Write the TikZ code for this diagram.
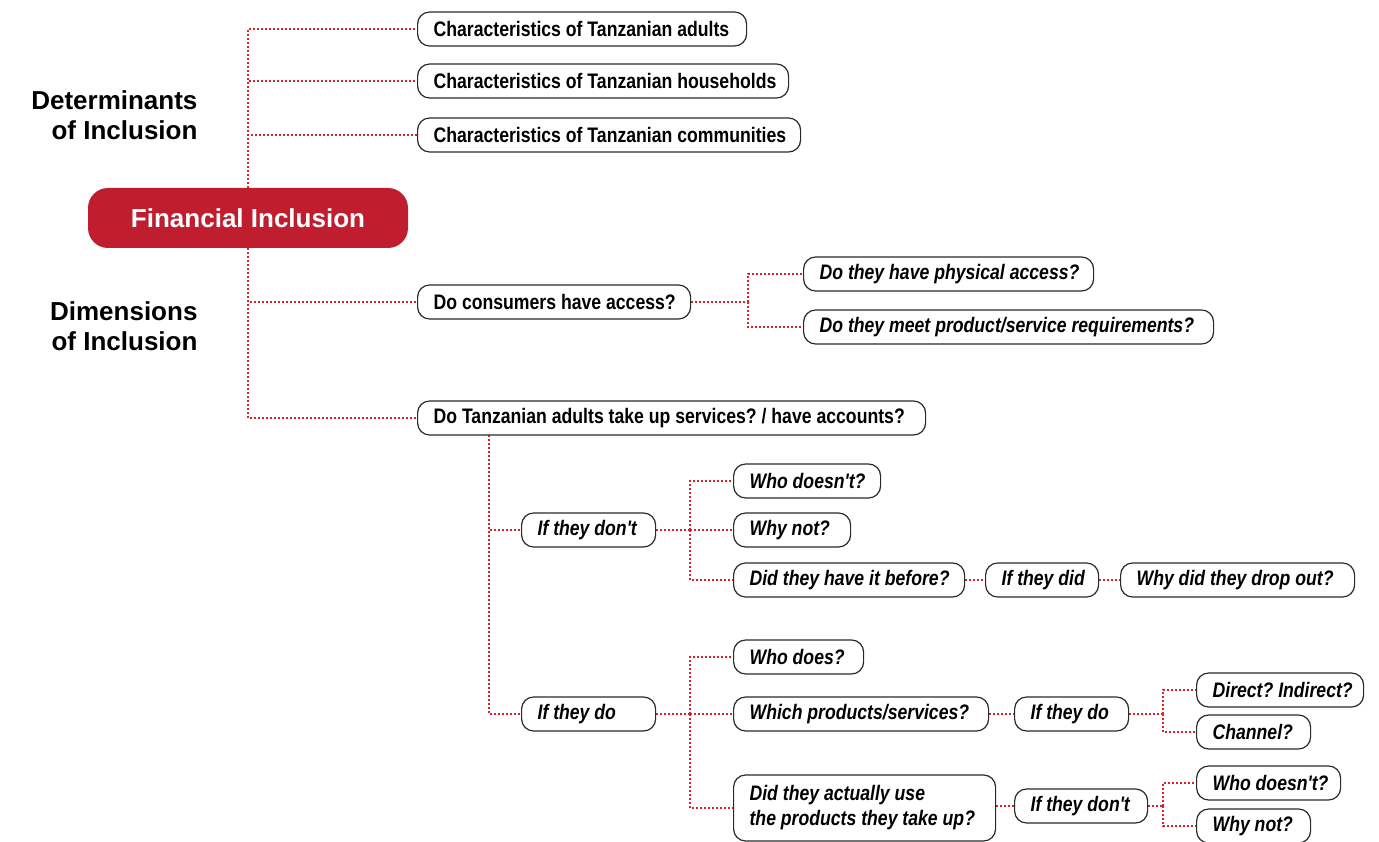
\documentclass[tikz,border=0pt]{standalone}
\usepackage{fontspec}
\usetikzlibrary{backgrounds}
\setmainfont{Liberation Sans}
\newfontfamily\condfont[FakeStretch=0.84]{Liberation Sans}
\definecolor{fired}{HTML}{C01E2E}
\definecolor{dotred}{HTML}{D8232F}
\definecolor{boxline}{HTML}{2A2A2A}
\frenchspacing
\newcommand{\bt}[2]{\makebox[#1][l]{#2}}
\tikzset{
  qbox/.style={draw=boxline, line width=1.2pt, rounded corners=12pt, fill=white,
    anchor=west, align=left, inner xsep=16pt, inner ysep=3pt, minimum height=34pt,
    font=\condfont\bfseries\fontsize{21}{25}\selectfont},
  ibox/.style={qbox, font=\condfont\bfseries\itshape\fontsize{21}{25}\selectfont},
  dotc/.style={draw=dotred, line width=1.9pt, dash pattern=on 1.7pt off 2.3pt},
  sidelabel/.style={anchor=east, align=right, font=\bfseries\fontsize{26}{30}\selectfont}
}
\begin{document}
\begin{tikzpicture}[x=1pt,y=-1pt]
\useasboundingbox (0,0) rectangle (1379,842);
\node[sidelabel] (det) at (201,115) {Determinants\\of Inclusion};
\node[sidelabel] (dim) at (201,326) {Dimensions\\of Inclusion};

\node[qbox] (adults) at (417,29) {\bt{297pt}{Characteristics of Tanzanian adults}};
\node[qbox] (house) at (417,81) {\bt{339pt}{Characteristics of Tanzanian households}};
\node[qbox] (comm) at (417,135) {\bt{351pt}{Characteristics of Tanzanian communities}};

\node[qbox] (access) at (417,302) {\bt{241pt}{Do consumers have access?}};
\node[ibox] (phys) at (803,274) {\bt{258pt}{Do they have physical access?}};
\node[ibox] (meet) at (803,327) {\bt{378pt}{Do they meet product/service requirements?}};

\node[qbox] (tanz) at (417,418) {\bt{476pt}{Do Tanzanian adults take up services? / have accounts?}};

\node[ibox] (ifdont) at (521,530) {\bt{102pt}{If they don't}};
\node[ibox] (whodoesnt) at (733,481) {\bt{115pt}{Who doesn't?}};
\node[ibox] (whynot) at (733,530) {\bt{85pt}{Why not?}};
\node[ibox] (before) at (733,580) {\bt{199pt}{Did they have it before?}};
\node[ibox] (ifdid) at (985,580) {\bt{81pt}{If they did}};
\node[ibox] (dropout) at (1120,580) {\bt{202pt}{Why did they drop out?}};

\node[ibox] (ifdo) at (521,714) {\bt{102pt}{If they do}};
\node[ibox] (whodoes) at (733,657) {\bt{98pt}{Who does?}};
\node[ibox] (which) at (733,714) {\bt{223pt}{Which products/services?}};
\node[ibox, minimum height=66pt] (actually) at (733,808) {\bt{230pt}{Did they actually use}\\\bt{230pt}{the products they take up?}};

\node[ibox] (ifdo2) at (1014,714) {\bt{82pt}{If they do}};
\node[ibox] (direct) at (1196,690) {\bt{135pt}{Direct? Indirect?}};
\node[ibox] (channel) at (1196,732) {\bt{82pt}{Channel?}};

\node[ibox] (ifdont2) at (1014,806) {\bt{101pt}{If they don't}};
\node[ibox] (whodoesnt2) at (1196,783) {\bt{112pt}{Who doesn't?}};
\node[ibox] (whynot2) at (1196,826) {\bt{82pt}{Why not?}};

\node[fill=fired, rounded corners=20pt, minimum width=320pt, minimum height=60pt,
      text=white, font=\bfseries\fontsize{26}{30}\selectfont] (fin) at (248,218) {Financial Inclusion};

% junction coordinates
\coordinate (jacc) at (748,302);
\coordinate (tzb) at (489,435);
\coordinate (jdont) at (690,530);
\coordinate (jdo) at (690,714);
\coordinate (jdo2) at (1163,714);
\coordinate (jdont2) at (1163,806);

\begin{scope}[on background layer]
\draw[dotc] (fin.north) |- (adults.west);
\draw[dotc] (fin.north) |- (house.west);
\draw[dotc] (fin.north) |- (comm.west);
\draw[dotc] (fin.south) |- (access.west);
\draw[dotc] (fin.south) |- (tanz.west);

\draw[dotc] (access.east) -- (jacc);
\draw[dotc] (jacc) |- (phys.west);
\draw[dotc] (jacc) |- (meet.west);

\draw[dotc] (tzb) |- (ifdont.west);
\draw[dotc] (tzb) |- (ifdo.west);

\draw[dotc] (ifdont.east) -- (jdont);
\draw[dotc] (jdont) |- (whodoesnt.west);
\draw[dotc] (jdont) -- (whynot.west);
\draw[dotc] (jdont) |- (before.west);
\draw[dotc] (before.east) -- (ifdid.west);
\draw[dotc] (ifdid.east) -- (dropout.west);

\draw[dotc] (ifdo.east) -- (jdo);
\draw[dotc] (jdo) |- (whodoes.west);
\draw[dotc] (jdo) -- (which.west);
\draw[dotc] (jdo) |- (actually.west);
\draw[dotc] (which.east) -- (ifdo2.west);
\draw[dotc] (actually.east |- ifdont2.west) -- (ifdont2.west);

\draw[dotc] (ifdo2.east) -- (jdo2);
\draw[dotc] (jdo2) |- (direct.west);
\draw[dotc] (jdo2) |- (channel.west);

\draw[dotc] (ifdont2.east) -- (jdont2);
\draw[dotc] (jdont2) |- (whodoesnt2.west);
\draw[dotc] (jdont2) |- (whynot2.west);
\end{scope}
\end{tikzpicture}
\end{document}
